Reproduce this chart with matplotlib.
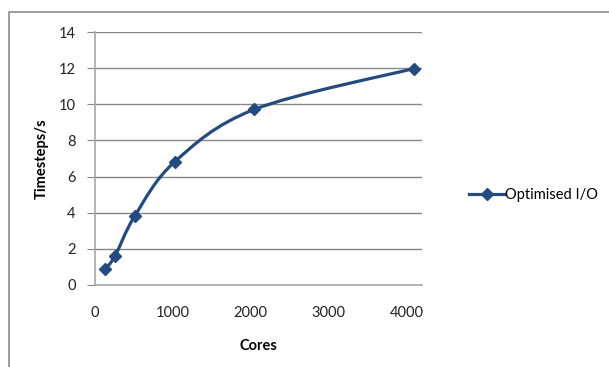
import numpy as np
import matplotlib
matplotlib.use("Agg")
import matplotlib.pyplot as plt
from matplotlib.path import Path
from matplotlib.patches import PathPatch
from matplotlib.lines import Line2D

plt.rcParams["font.family"] = ["Lato", "DejaVu Sans"]

# data
cores = [128, 256, 512, 1024, 2048, 4096]
timesteps = [0.87, 1.6, 3.83, 6.82, 9.72, 11.98]
series_name = "Optimised I/O"
x_labels = [0, 1000, 2000, 3000, 4000]
y_labels = [0, 2, 4, 6, 8, 10, 12, 14]

line_color = "#234B80"
grid_color = "#878787"
axis_color = "#A6A6A6"


def smooth_path(xs, ys):
    # Excel-like smoothed line: cubic bezier through each point (catmull-rom)
    pts = np.column_stack([xs, ys]).astype(float)
    padded = np.vstack([pts[0], pts, pts[-1]])
    verts = [pts[0]]
    codes = [Path.MOVETO]
    for i in range(len(pts) - 1):
        p0, p1, p2, p3 = padded[i], padded[i + 1], padded[i + 2], padded[i + 3]
        c1 = p1 + (p2 - p0) / 6.0
        c2 = p2 - (p3 - p1) / 6.0
        verts += [c1, c2, p2]
        codes += [Path.CURVE4] * 3
    return Path(verts, codes)


def draw_chart():
    fig = plt.figure(figsize=(6.09, 3.67), dpi=100)
    ax = fig.add_axes([95 / 609, 82 / 367, 327 / 609, 253 / 367])

    # outer chart frame (only left and top edges visible)
    fx = 9 / 609
    fy = 1 - 12 / 367
    fig.add_artist(Line2D([fx, fx, 1], [0, fy, fy], transform=fig.transFigure,
                          color="#8C8C8C", lw=1.2))

    ax.add_patch(PathPatch(smooth_path(cores, timesteps), facecolor="none",
                           edgecolor=line_color, lw=2.3, zorder=3))
    ax.plot(cores, timesteps, linestyle="none", marker="D", ms=6.5,
            color=line_color, zorder=4)

    ax.set_xlim(0, 4200)
    ax.set_ylim(0, 14)
    ax.set_xticks(x_labels)
    ax.set_xticklabels([str(v) for v in x_labels])
    ax.set_xticks(x_labels[::2], minor=True)
    ax.set_yticks(y_labels)
    ax.tick_params(axis="x", which="major", length=0, pad=15, labelsize=10.5,
                   labelcolor="#222222")
    ax.tick_params(axis="x", which="minor", length=5, color=axis_color,
                   direction="out")
    ax.tick_params(axis="y", length=6, color=grid_color, pad=8, labelsize=10.5,
                   labelcolor="#222222")

    ax.grid(axis="y", color=grid_color, lw=1)
    ax.set_axisbelow(True)
    for side in ["top", "right"]:
        ax.spines[side].set_visible(False)
    ax.spines["left"].set_color(axis_color)
    ax.spines["bottom"].set_color(axis_color)
    ax.spines["left"].set_linewidth(1.2)
    ax.spines["bottom"].set_linewidth(1.2)

    ax.set_xlabel("Cores", fontsize=10.5, fontweight="bold", labelpad=14)
    ax.set_ylabel("Timesteps/s", fontsize=10.5, fontweight="bold", labelpad=7)

    handle = Line2D([], [], color=line_color, lw=2.3, marker="D", ms=6.5)
    fig.legend([handle], [series_name], loc="center left",
               bbox_to_anchor=(463 / 609, 1 - 195 / 367), frameon=False,
               fontsize=10.5, handlelength=2.5, handletextpad=0.0,
               borderaxespad=0)

    fig.savefig("out.png", dpi=100)


if __name__ == "__main__":
    draw_chart()
